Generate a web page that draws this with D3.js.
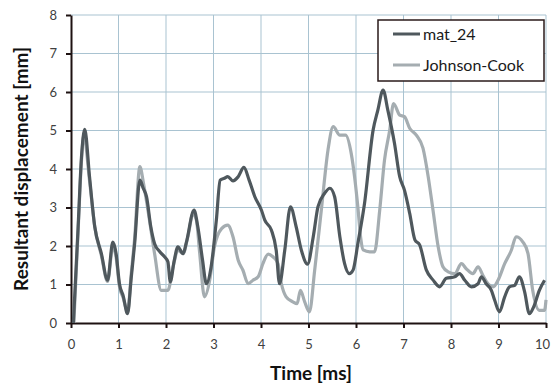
<!DOCTYPE html>
<html><head><meta charset="utf-8">
<script src="https://cdn.jsdelivr.net/npm/d3@7"></script>
<style>html,body{margin:0;padding:0;background:#fff;}svg{display:block;}</style>
</head><body>
<script>
const xTicks = [0,1,2,3,4,5,6,7,8,9,10];
const yTicks = [0,1,2,3,4,5,6,7,8];
const seriesNames = ["mat_24","Johnson-Cook"];

const matTime = [0.05,0.15,0.22,0.29,0.39,0.5,0.64,0.77,0.88,0.95,1.02,1.1,1.19,1.27,1.34,1.45,1.52,1.59,1.68,1.76,1.87,1.97,2.04,2.09,2.17,2.25,2.36,2.43,2.59,2.67,2.77,2.85,2.95,3.06,3.14,3.23,3.3,3.41,3.52,3.64,3.75,3.87,4.01,4.08,4.22,4.32,4.39,4.5,4.62,4.74,4.85,4.98,5.1,5.2,5.34,5.45,5.55,5.66,5.76,5.86,5.94,6.04,6.18,6.36,6.46,6.57,6.67,6.81,6.92,7.02,7.13,7.24,7.34,7.48,7.62,7.76,7.9,8.08,8.18,8.29,8.43,8.57,8.64,8.74,8.85,8.92,9.02,9.13,9.23,9.34,9.44,9.55,9.65,9.74,9.86,9.97];
const matDisp = [0,2.5,4.3,5.03,3.8,2.5,1.8,1.11,2.1,1.8,1.02,0.7,0.24,1.2,2.06,3.71,3.5,3.28,2.5,2.06,1.85,1.72,1.59,1.07,1.6,1.98,1.8,2.1,2.93,2.5,1.63,1.02,1.46,2.67,3.71,3.76,3.8,3.69,3.8,4.04,3.71,3.28,2.93,2.67,2.41,1.89,1.02,1.89,3.02,2.5,1.89,1.53,2.24,3.02,3.37,3.5,3.28,2.24,1.54,1.28,1.38,2.07,3.11,5.01,5.53,6.05,5.53,4.67,3.8,3.45,2.85,2.16,2.03,1.38,1.12,0.94,1.16,1.2,1.28,1.11,0.94,1.02,1.2,1.02,0.85,0.59,0.29,0.68,0.94,0.98,1.2,0.81,0.24,0.42,0.85,1.11];

const jcTime = [0.06,0.15,0.22,0.27,0.39,0.5,0.64,0.77,0.88,0.95,1.02,1.1,1.19,1.27,1.34,1.45,1.53,1.62,1.76,1.9,2.04,2.15,2.25,2.36,2.46,2.57,2.64,2.71,2.81,2.92,3.02,3.17,3.3,3.41,3.52,3.62,3.73,3.83,3.94,4.04,4.15,4.25,4.36,4.43,4.53,4.67,4.76,4.83,4.92,5.02,5.13,5.27,5.41,5.52,5.66,5.78,5.9,5.97,6.04,6.1,6.15,6.29,6.39,6.5,6.6,6.71,6.79,6.92,7.02,7.13,7.27,7.41,7.52,7.62,7.73,7.83,7.94,8.08,8.22,8.32,8.46,8.57,8.67,8.78,8.89,8.99,9.13,9.27,9.37,9.51,9.62,9.72,9.86,9.97,10];
const jcDisp = [0,2.4,4.2,4.88,3.7,2.5,1.75,1.08,1.98,1.7,0.95,0.65,0.28,1.3,2.2,4.06,3.6,2.93,1.8,0.85,0.85,1.46,1.89,1.8,2.24,2.84,2.67,1.8,0.68,1.11,1.98,2.45,2.54,2.24,1.63,1.37,1.02,1.11,1.2,1.54,1.79,1.72,1.54,1.02,0.68,0.55,0.5,0.85,0.55,0.29,1.37,2.93,4.49,5.1,4.88,4.88,4.4,3.8,3.0,2.2,1.9,1.85,1.85,2.94,4.23,5.01,5.7,5.4,5.36,5.06,4.88,4.54,3.8,2.94,1.98,1.46,1.33,1.28,1.54,1.41,1.28,1.46,1.24,1.02,0.94,1.11,1.54,1.89,2.24,2.11,1.81,0.85,0.33,0.33,0.6];

const W = 552, H = 385;
const M = {left:71, right:6, top:15, bottom:62};
const svg = d3.select("body").append("svg").attr("width",W).attr("height",H);
const x = d3.scaleLinear().domain([0,10]).range([M.left, W-M.right]);
const y = d3.scaleLinear().domain([0,8]).range([H-M.bottom, M.top]);

const gridColor = "#a9c3d1";
svg.append("g").selectAll("line").data(xTicks.slice(1)).join("line")
  .attr("x1",d=>x(d)).attr("x2",d=>x(d)).attr("y1",y(0)).attr("y2",y(8))
  .attr("stroke",gridColor).attr("stroke-width",1);
svg.append("g").selectAll("line").data(yTicks.slice(1)).join("line")
  .attr("x1",x(0)).attr("x2",x(10)).attr("y1",d=>y(d)).attr("y2",d=>y(d))
  .attr("stroke",gridColor).attr("stroke-width",1);

const axisColor = "#1e1212";
const xAxis = svg.append("g").attr("transform",`translate(0,${y(0)})`)
  .call(d3.axisBottom(x).tickValues(xTicks).tickSize(5).tickSizeOuter(0).tickPadding(12));
const yAxis = svg.append("g").attr("transform",`translate(${x(0)},0)`)
  .call(d3.axisLeft(y).tickValues(yTicks).tickSize(5).tickSizeOuter(0).tickPadding(9));
[xAxis,yAxis].forEach(g=>{
  g.select(".domain").attr("stroke",axisColor).attr("stroke-width",2);
  g.selectAll(".tick line").attr("stroke",axisColor).attr("stroke-width",2);
  g.selectAll(".tick text").attr("fill","#404040").attr("font-family","Lato, sans-serif").attr("font-size",13);
});
// keep last x label inside the frame
xAxis.selectAll(".tick text").filter(d=>d===10).attr("dx",-4);

const line = d3.line().x(d=>x(d[0])).y(d=>y(d[1])).curve(d3.curveMonotoneX);
const jc = jcTime.map((t,i)=>[t,jcDisp[i]]);
const mat = matTime.map((t,i)=>[t,matDisp[i]]);
const colors = ["#4f585d","#a5adb1"];
svg.append("path").datum(jc).attr("d",line).attr("fill","none").attr("stroke",colors[1]).attr("stroke-width",3.2).attr("stroke-linejoin","round");
svg.append("path").datum(mat).attr("d",line).attr("fill","none").attr("stroke",colors[0]).attr("stroke-width",3.2).attr("stroke-linejoin","round");

// axis titles
svg.append("text").attr("x",311).attr("y",380).attr("text-anchor","middle")
  .attr("font-family","Lato, sans-serif").attr("font-weight","bold").attr("font-size",19).attr("fill","#111")
  .text("Time [ms]");
svg.append("text").attr("transform",`translate(28,${(y(0)+y(8))/2}) rotate(-90)`).attr("text-anchor","middle")
  .attr("font-family","Lato, sans-serif").attr("font-weight","bold").attr("font-size",19).attr("fill","#111")
  .text("Resultant displacement [mm]");

// legend
const lg = svg.append("g");
lg.append("rect").attr("x",378).attr("y",20).attr("width",166).attr("height",61)
  .attr("fill","#fff").attr("stroke","#2a1a1a").attr("stroke-width",1.5);
seriesNames.forEach((n,i)=>{
  const yy = 34 + i*31;
  lg.append("line").attr("x1",393).attr("x2",420).attr("y1",yy).attr("y2",yy)
    .attr("stroke",colors[i]).attr("stroke-width",3);
  lg.append("text").attr("x",423).attr("y",yy+5.5).attr("font-family","Lato, sans-serif")
    .attr("font-size",16).attr("fill","#1a1a1a").text(n);
});
</script>
</body></html>
